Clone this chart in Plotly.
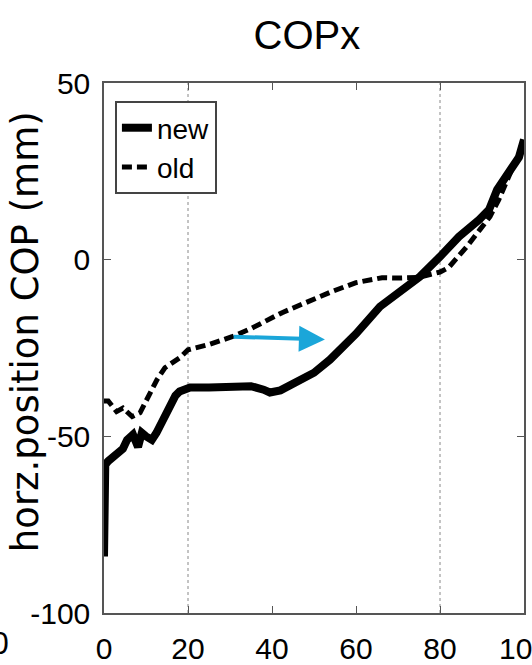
import plotly.graph_objects as go

# ---- data ----
t_new = [0, 0.3, 1, 2, 3, 4.5, 5.5, 6.9, 8.1, 9, 10, 11.4, 12.5, 13.3, 14.5, 15.7, 17, 18,
         20.5, 25, 30, 32.4, 35, 38, 39.5, 42, 45, 50, 53.8, 57, 60, 65.7, 70, 75.2, 80,
         84.5, 89.3, 91.7, 93.6, 96.4, 98.8, 100]
v_new = [-84, -58, -57, -56, -55, -53.5, -51, -49.5, -53, -49, -50, -51, -49, -47, -43.5,
         -40.5, -38.5, -37.3, -36.2, -36.2, -36, -35.4, -35.8, -36.8, -37.6, -37, -35, -32,
         -28.3, -24.5, -21, -13.3, -9.5, -4.8, 0.85, 6.5, 11.3, 14.2, 19.8, 24.6, 29, 34]

t_old = [0, 1, 3, 4.5, 6.7, 8.6, 9.8, 11.4, 12.6, 14.5, 18.1, 20, 25, 30.5, 35, 42.4, 48,
         54.3, 60, 66.2, 70, 75, 77.6, 80, 82, 86.4, 89.5, 91.9, 94, 96.4, 98, 100]
v_old = [-40, -40, -43, -42, -44.4, -43.3, -40.5, -36.8, -34, -30.6, -27.7, -25.5, -24,
         -21.8, -19.5, -15, -12, -9, -6.5, -5.1, -5.2, -5, -4.2, -3.5, -2.3, 3.7, 8.5,
         12.2, 17, 24, 28, 32.5]

x_ticks = [0, 20, 40, 60, 80, 100]
y_ticks = [-100, -50, 0, 50]
grid_x = [20, 80]
arrow_start = [30.5, -21.8]
arrow_end = [52.6, -22.6]

SANS = "Liberation Sans, Arial, sans-serif"

fig = go.Figure()
fig.add_trace(go.Scatter(x=t_new, y=v_new, mode="lines", name="new",
                         line=dict(color="black", width=8)))
fig.add_trace(go.Scatter(x=t_old, y=v_old, mode="lines", name="old",
                         line=dict(color="black", width=5, dash="10px,5px")))

for gx in grid_x:
    fig.add_shape(type="line", xref="x", yref="paper", x0=gx, x1=gx, y0=0, y1=1,
                  line=dict(color="#888888", width=1, dash="dot"), layer="below")

fig.add_annotation(x=arrow_end[0], y=arrow_end[1], ax=arrow_start[0], ay=arrow_start[1],
                   xref="x", yref="y", axref="x", ayref="y", text="", showarrow=True,
                   arrowhead=2, arrowsize=1.3, arrowwidth=4, arrowcolor="#1ba6d9")

fig.add_annotation(text="horz.position COP (mm)", textangle=-90, showarrow=False,
                   xref="paper", yref="paper", x=-0.188, y=0.53,
                   xanchor="center", yanchor="middle",
                   font=dict(family="DejaVu Sans, sans-serif", size=37, color="black"))

# clipped tick label from neighbouring panel at far left
fig.add_annotation(text="100", showarrow=False, xref="paper", yref="paper",
                   x=-0.222, y=-0.058, xanchor="right", yanchor="middle",
                   font=dict(family=SANS, size=31, color="black"))

axis_common = dict(showline=True, linecolor="#555555", linewidth=1.5, mirror="ticks",
                   ticks="inside", ticklen=7, tickcolor="#555555", showgrid=False,
                   zeroline=False, tickfont=dict(family=SANS, size=30, color="black"),
                   ticklabeloverflow="allow", automargin=False)

fig.update_layout(
    width=532, height=665,
    margin=dict(l=104, r=8, t=83, b=52, autoexpand=False),
    paper_bgcolor="white", plot_bgcolor="white",
    title=dict(text="COPx", x=0.577, xanchor="center", y=0.947, yanchor="middle",
               font=dict(family=SANS, size=40, color="black")),
    xaxis=dict(range=[0, 100], tickvals=x_ticks, ticktext=[str(v) for v in x_ticks],
               ticklabelstandoff=8, **axis_common),
    yaxis=dict(range=[-100, 50], tickvals=y_ticks, ticktext=[str(v) for v in y_ticks],
               ticklabelstandoff=6, **axis_common),
    showlegend=True,
    legend=dict(x=0.026, y=0.966, xanchor="left", yanchor="top",
                bgcolor="white", bordercolor="#444444", borderwidth=2,
                font=dict(family=SANS, size=28, color="black")),
)

fig.write_html("out.html")
